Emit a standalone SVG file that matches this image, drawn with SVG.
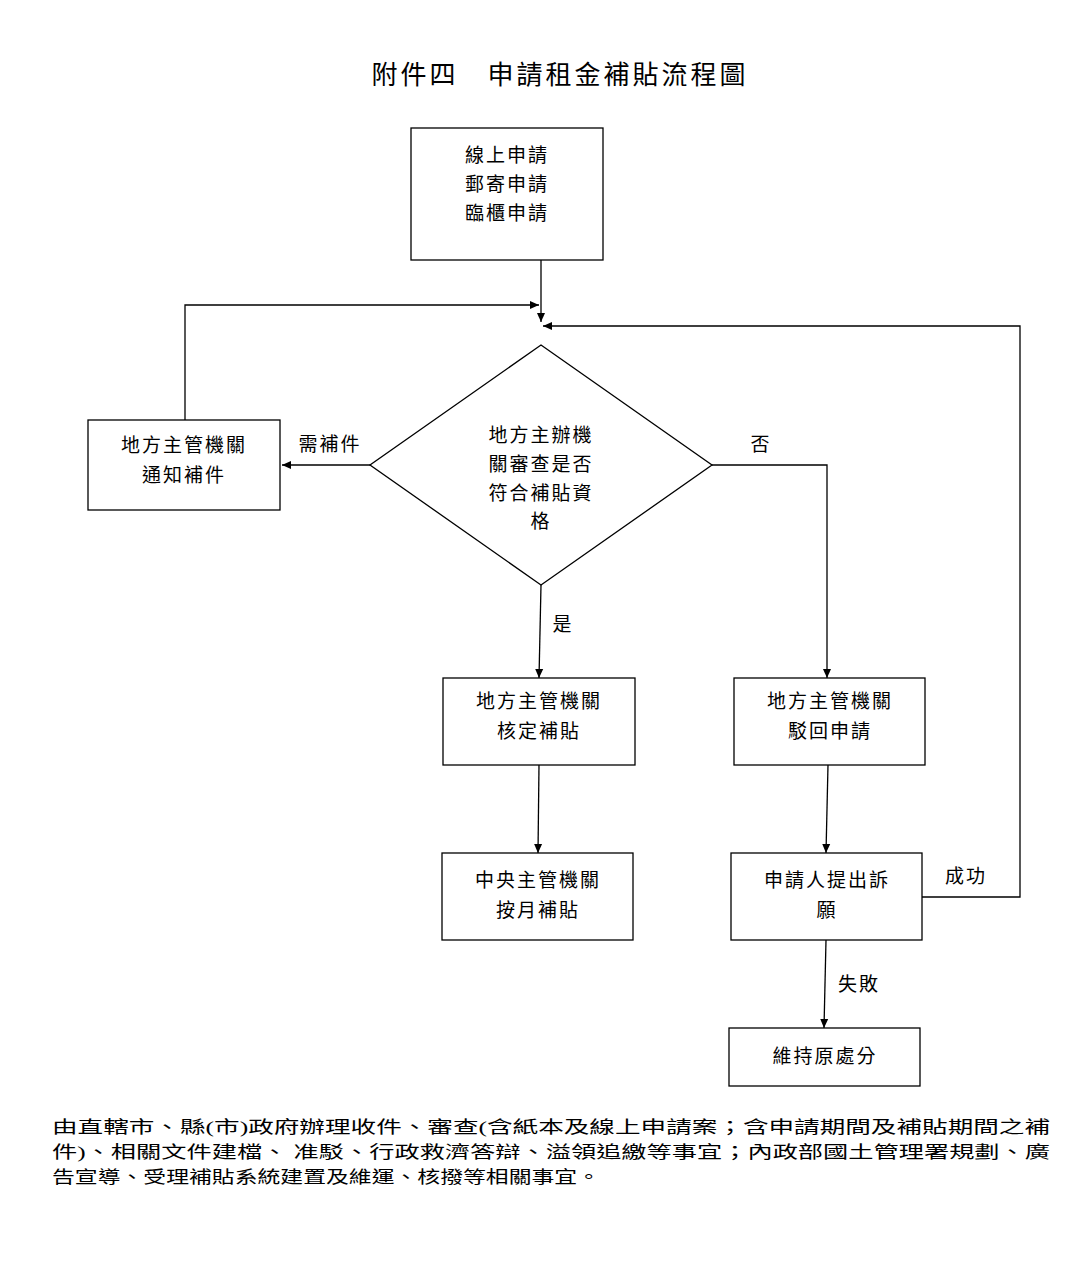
<svg xmlns="http://www.w3.org/2000/svg" width="1081" height="1287" viewBox="0 0 1081 1287">
<style>
text{font-family:"Liberation Serif","Noto Sans CJK TC",serif;fill:#000}
.n{font-size:19px;text-anchor:middle;letter-spacing:2px}
.b{fill:#fff;stroke:#000;stroke-width:1.3}
.c{fill:none;stroke:#000;stroke-width:1.3}
.f{font-size:17px}
</style>
<defs><marker id="a" markerWidth="10" markerHeight="10" refX="9" refY="5" orient="auto" markerUnits="userSpaceOnUse"><path d="M0,1 L9,5 L0,9 z"/></marker></defs>
<rect width="1081" height="1287" fill="#fff"/>
<text x="560" y="84" font-size="26" text-anchor="middle" letter-spacing="3">附件四　申請租金補貼流程圖</text>
<g id="connectors">
<path class="c" d="M541,260 L541,322" marker-end="url(#a)"/>
<path class="c" d="M185,420 L185,305 L539,305" marker-end="url(#a)"/>
<path class="c" d="M922,897 L1020,897 L1020,326 L543,326" marker-end="url(#a)"/>
<path class="c" d="M370,465 L282,465" marker-end="url(#a)"/>
<path class="c" d="M712,465 L827,465 L827,678" marker-end="url(#a)"/>
<path class="c" d="M541,585 L539,678" marker-end="url(#a)"/>
<path class="c" d="M539,765 L538,853" marker-end="url(#a)"/>
<path class="c" d="M828,765 L826,853" marker-end="url(#a)"/>
<path class="c" d="M826,940 L824,1028" marker-end="url(#a)"/>
<text class="n" x="330" y="451">需補件</text>
<text class="n" x="761" y="451">否</text>
<text class="n" x="563" y="631">是</text>
<text class="n" x="966" y="883">成功</text>
<text class="n" x="859" y="991">失敗</text>
</g>
<g id="apply"><rect class="b" x="411" y="128" width="192" height="132"/>
<text class="n" x="507" y="162">線上申請</text><text class="n" x="507" y="191">郵寄申請</text><text class="n" x="507" y="220">臨櫃申請</text></g>
<g id="review"><path class="b" d="M541,345 L712,465 L541,585 L370,465 Z"/>
<text class="n" x="541" y="442">地方主辦機</text><text class="n" x="541" y="471">關審查是否</text><text class="n" x="541" y="500">符合補貼資</text><text class="n" x="541" y="528">格</text></g>
<g id="notify"><rect class="b" x="88" y="420" width="192" height="90"/>
<text class="n" x="184" y="452">地方主管機關</text><text class="n" x="184" y="482">通知補件</text></g>
<g id="approve"><rect class="b" x="443" y="678" width="192" height="87"/>
<text class="n" x="539" y="708">地方主管機關</text><text class="n" x="539" y="738">核定補貼</text></g>
<g id="reject"><rect class="b" x="734" y="678" width="191" height="87"/>
<text class="n" x="830" y="708">地方主管機關</text><text class="n" x="830" y="738">駁回申請</text></g>
<g id="monthly"><rect class="b" x="442" y="853" width="191" height="87"/>
<text class="n" x="538" y="887">中央主管機關</text><text class="n" x="538" y="917">按月補貼</text></g>
<g id="appeal"><rect class="b" x="731" y="853" width="191" height="87"/>
<text class="n" x="827" y="887">申請人提出訴</text><text class="n" x="827" y="917">願</text></g>
<g id="keep"><rect class="b" x="729" y="1028" width="191" height="58"/>
<text class="n" x="825" y="1063">維持原處分</text></g>
<g id="note">
<text class="f" x="52" y="1133" textLength="998" lengthAdjust="spacingAndGlyphs">由直轄市、縣(市)政府辦理收件、審查(含紙本及線上申請案；含申請期間及補貼期間之補</text>
<text class="f" x="52" y="1158" textLength="998" lengthAdjust="spacingAndGlyphs">件)、相關文件建檔、  准駁、行政救濟答辯、溢領追繳等事宜；內政部國土管理署規劃、廣</text>
<text class="f" x="52" y="1183" textLength="548" lengthAdjust="spacingAndGlyphs">告宣導、受理補貼系統建置及維運、核撥等相關事宜。</text>
</g>
</svg>
